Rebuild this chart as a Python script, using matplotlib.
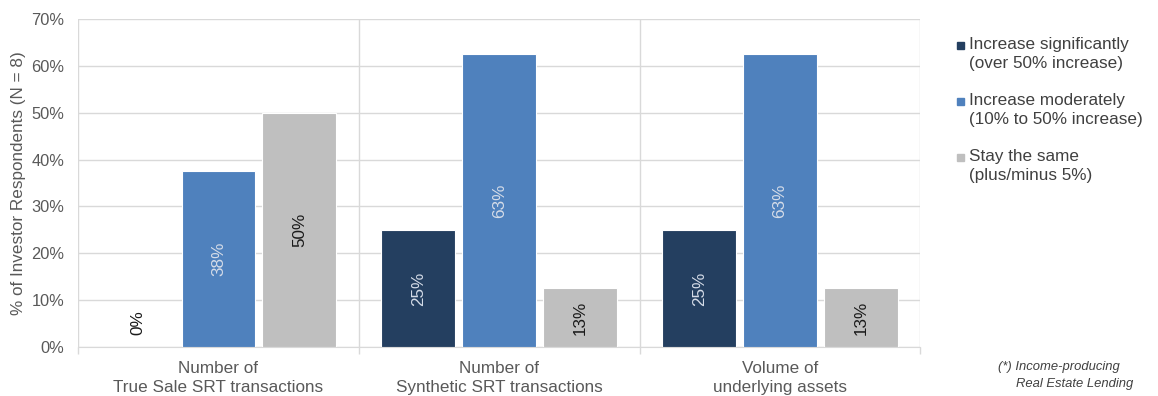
import numpy as np
import matplotlib.pyplot as plt
from matplotlib.patches import Rectangle

plt.rcParams['font.family'] = ['Liberation Sans', 'DejaVu Sans']

categories = ['Number of\nTrue Sale SRT transactions',
              'Number of\nSynthetic SRT transactions',
              'Volume of\nunderlying assets']
series = ['Increase significantly\n(over 50% increase)',
          'Increase moderately\n(10% to 50% increase)',
          'Stay the same\n(plus/minus 5%)']
sig = [0.0, 0.25, 0.25]
mod = [0.375, 0.625, 0.625]
same = [0.50, 0.125, 0.125]
values = [sig, mod, same]
colors = ['#243f60', '#4f81bd', '#bfbfbf']
label_colors = ['#d5dce8', '#d5dce8', '#1a1a1a']

FS = 12.3

fig = plt.figure(figsize=(11.58, 3.96), dpi=100)
ax = fig.add_axes([0.0674, 0.1237, 0.7275, 0.8283])

x = np.arange(len(categories))
width = 0.263
step = 0.288
for i, vals in enumerate(values):
    pos = x + (i - 1) * step
    ax.bar(pos, vals, width, color=colors[i], edgecolor='white', linewidth=0.8, zorder=3)
    for px, v in zip(pos, vals):
        txt = '{:.0f}%'.format(np.floor(v * 100 + 0.5))
        if v == 0:
            ax.text(px, 0.025, txt, rotation=90, ha='center', va='bottom',
                    fontsize=FS, color='#1a1a1a', zorder=4)
        else:
            ax.text(px, v / 2, txt, rotation=90, ha='center', va='center',
                    fontsize=FS, color=label_colors[i], zorder=4)

ax.set_xlim(-0.5, len(categories) - 0.5)
ax.set_ylim(0, 0.7)
ax.set_yticks(np.arange(0, 0.71, 0.1))
ax.set_yticklabels(['{:.0f}%'.format(t * 100) for t in np.arange(0, 0.71, 0.1)])
ax.set_xticks(x)
ax.set_xticklabels(categories, fontsize=FS, color='#595959', linespacing=1.3)
ax.set_xticks(np.arange(-0.5, len(categories)), minor=True)
ax.tick_params(axis='x', which='major', length=0, pad=10)
ax.tick_params(axis='x', which='minor', length=5, color='#d9d9d9', width=1)
ax.tick_params(axis='y', length=0, labelsize=11.8, labelcolor='#595959', pad=10)
ax.grid(axis='y', color='#d9d9d9', linewidth=1, zorder=0)
ax.grid(axis='x', which='minor', color='#d9d9d9', linewidth=1, zorder=0)
for s in ['top', 'right', 'left']:
    ax.spines[s].set_visible(False)
ax.spines['bottom'].set_color('#d9d9d9')
ax.set_ylabel('% of Investor Respondents (N = 8)', fontsize=FS, color='#595959', labelpad=4)

# legend
for i, name in enumerate(series):
    ytop = 1 - (40 + i * 56) / 396
    fig.patches.append(Rectangle((957 / 1158, ytop - 9 / 396), 7 / 1158, 7 / 396,
                                 transform=fig.transFigure, color=colors[i]))
    fig.text(969 / 1158, ytop + 3 / 396, name, fontsize=FS, color='#404040',
             va='top', ha='left', linespacing=1.3)

fig.text(998 / 1158, 1 - 367 / 396, '(*) Income-producing', fontsize=9.4, style='italic',
         color='#404040', va='center')
fig.text(1016 / 1158, 1 - 384 / 396, 'Real Estate Lending', fontsize=9.4, style='italic',
         color='#404040', va='center')

fig.savefig('out.png', dpi=100)
